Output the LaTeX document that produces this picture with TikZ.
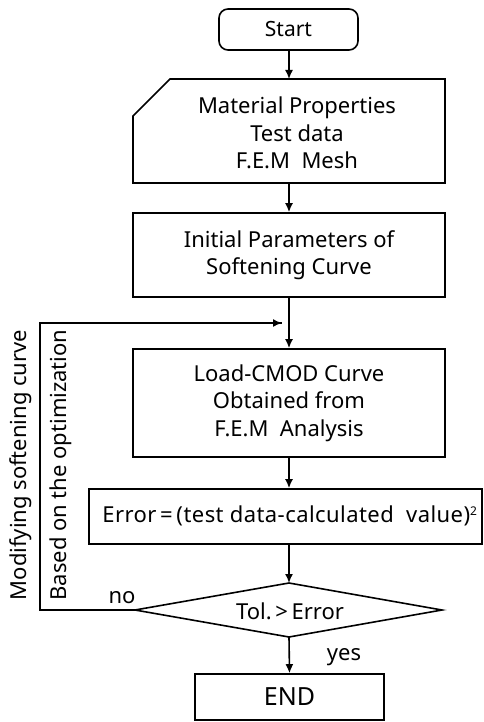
\documentclass[tikz,border=0pt]{standalone}
\usepackage{fontspec}
\setmainfont{Noto Sans}
\usetikzlibrary{arrows.meta,shapes.geometric}
\begin{document}
\begin{tikzpicture}[x=1pt,y=1pt,
  box/.style={draw,line width=1.6pt,inner sep=0pt},
  txt/.style={font=\fontsize{22}{27.5}\selectfont,align=center,inner sep=0pt},
  arr/.style={line width=1.6pt,-{Latex[length=9pt,width=8pt]}},
  ln/.style={line width=1.6pt}]
\useasboundingbox (0,0) rectangle (484,-722);
% Start
\draw[box,rounded corners=9pt] (219,-9) rectangle (358,-50);
\node[txt,font=\fontsize{21}{25}\selectfont] (start) at (288.5,-29.5) {Start};
\coordinate (startb) at (289,-50);
% card
\draw[box,line join=miter] (170,-79) -- (445,-79) -- (445,-183) -- (133,-183) -- (133,-116) -- cycle;
\node[txt] (mat) at (297,-133) {Material Properties\\Test data\\F.E.M~ Mesh};
\coordinate (matt) at (289,-79);
\coordinate (matb) at (289,-183);
% initial
\node[box,minimum width=312pt,minimum height=84pt] (init) at (289,-255) {};
\node[txt] (initt) at (init) {Initial Parameters of\\Softening Curve};
% load
\node[box,minimum width=312pt,minimum height=108pt] (load) at (289,-403) {};
\node[txt] (loadt) at (load) {Load-CMOD Curve\\Obtained from\\F.E.M~ Analysis};
% error
\node[box,minimum width=393pt,minimum height=55pt] (err) at (285.5,-516.5) {};
\node[txt] (errt) at (290,-516) {\addfontfeature{LetterSpace=2}Error\,=\,(test data-calculated~ value)\textsuperscript{\fontsize{12}{12}\selectfont 2}};
% diamond
\draw[box,line join=miter] (135,-610) -- (289,-583) -- (442,-610) -- (289,-637) -- cycle;
\coordinate (dl) at (135,-610);
\coordinate (dt) at (289,-583);
\coordinate (db) at (289,-637);
\node[txt] (tol) at (290,-611) {Tol.\,>\,Error};
% END
\node[box,minimum width=189pt,minimum height=46pt] (end) at (289.5,-697) {};
\node[txt,font=\fontsize{25}{30}\selectfont] (endt) at (end) {END};
% arrows
\draw[arr] (startb) -- (matt);
\draw[arr] (matb) -- (init.north);
\draw[arr] (init.south) -- (load.north);
\draw[arr] (load.south) -- (err.north -| load.south);
\draw[arr] (err.south -| dt) -- (dt);
\draw[arr] (db) -- (end.north);
% loop
\coordinate (c1) at (40,-610);
\coordinate (c2) at (40,-323);
\coordinate (c3) at (282,-323);
\draw[ln] (dl) -- (c1) -- (c2) -- (c3);
\draw[arr] (c2) -- (c3);
% labels
\node[txt] (no) at (122,-598) {no};
\node[txt] (yes) at (344,-657) {yes};
\node[txt,rotate=90] (mod) at (21,-465) {Modifying softening curve};
\node[txt,rotate=90] (based) at (61,-465) {Based on the optimization};
\end{tikzpicture}
\end{document}
